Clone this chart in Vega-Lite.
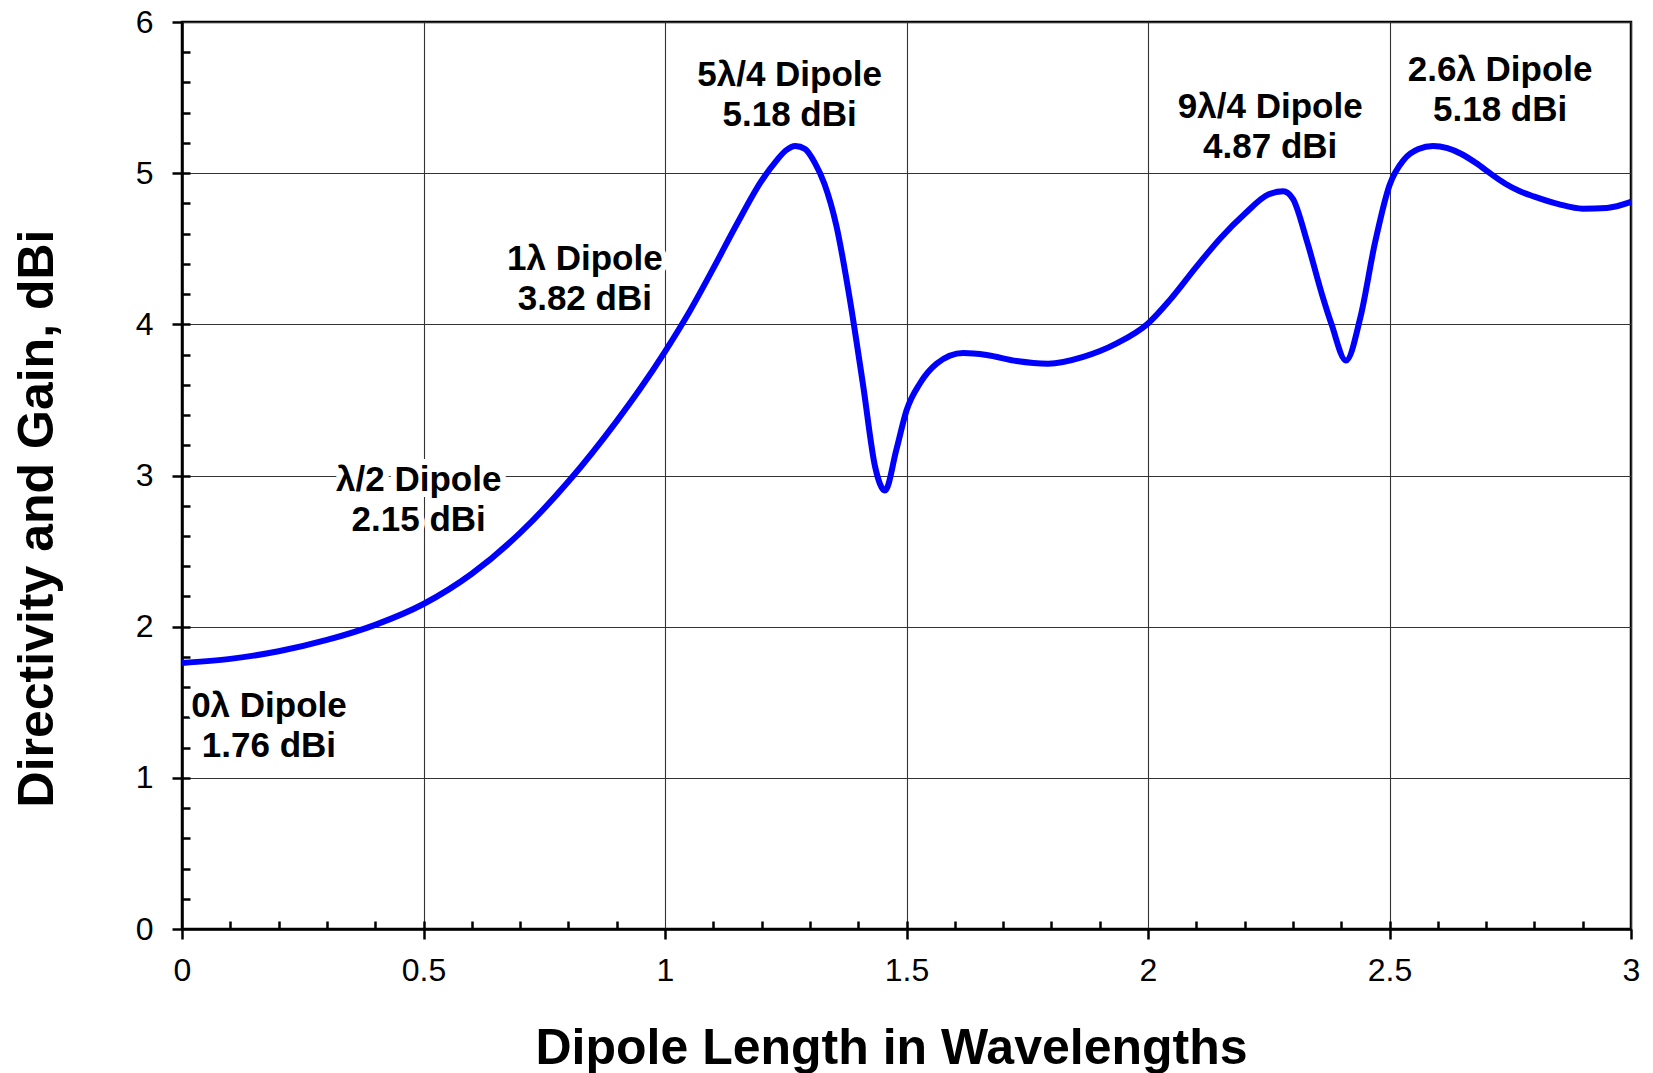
{
  "$schema": "https://vega.github.io/schema/vega-lite/v6.json",
  "autosize": {"type": "none"},
  "padding": {"left": 182, "top": 22, "right": 22, "bottom": 144},
  "width": 1449,
  "height": 907,
  "background": "white",
  "config": {
    "view": {"stroke": "black", "strokeWidth": 2.5},
    "font": "Liberation Sans"
  },
  "datasets": {
    "curve": [
      {"L": 0.0, "D": 1.76}, {"L": 0.1, "D": 1.787}, {"L": 0.2, "D": 1.837}, {"L": 0.3, "D": 1.912},
      {"L": 0.4, "D": 2.012}, {"L": 0.5, "D": 2.15}, {"L": 0.6, "D": 2.35}, {"L": 0.7, "D": 2.62},
      {"L": 0.8, "D": 2.96}, {"L": 0.9, "D": 3.36}, {"L": 0.95, "D": 3.58}, {"L": 1.0, "D": 3.82},
      {"L": 1.05, "D": 4.08}, {"L": 1.1, "D": 4.37}, {"L": 1.15, "D": 4.67}, {"L": 1.2, "D": 4.95},
      {"L": 1.23, "D": 5.08}, {"L": 1.25, "D": 5.15}, {"L": 1.27, "D": 5.18}, {"L": 1.29, "D": 5.16},
      {"L": 1.31, "D": 5.07}, {"L": 1.33, "D": 4.93},
      {"L": 1.355, "D": 4.65}, {"L": 1.383, "D": 4.16}, {"L": 1.4106, "D": 3.587},
      {"L": 1.435, "D": 3.058}, {"L": 1.4555, "D": 2.9}, {"L": 1.479, "D": 3.17}, {"L": 1.5, "D": 3.43},
      {"L": 1.528, "D": 3.61}, {"L": 1.5625, "D": 3.74}, {"L": 1.6175, "D": 3.81}, {"L": 1.666, "D": 3.797},
      {"L": 1.728, "D": 3.757}, {"L": 1.793, "D": 3.74}, {"L": 1.866, "D": 3.785}, {"L": 1.935, "D": 3.874},
      {"L": 2.0, "D": 4.006}, {"L": 2.045, "D": 4.16}, {"L": 2.1, "D": 4.38}, {"L": 2.15, "D": 4.57},
      {"L": 2.2, "D": 4.73}, {"L": 2.25, "D": 4.86}, {"L": 2.28, "D": 4.88}, {"L": 2.3, "D": 4.83},
      {"L": 2.33, "D": 4.54}, {"L": 2.36, "D": 4.2}, {"L": 2.38, "D": 4.0}, {"L": 2.41, "D": 3.76},
      {"L": 2.44, "D": 4.05}, {"L": 2.47, "D": 4.54}, {"L": 2.5, "D": 4.92}, {"L": 2.53, "D": 5.09},
      {"L": 2.56, "D": 5.16}, {"L": 2.59, "D": 5.18}, {"L": 2.62, "D": 5.165}, {"L": 2.65, "D": 5.125},
      {"L": 2.68, "D": 5.065}, {"L": 2.71, "D": 4.995}, {"L": 2.74, "D": 4.93}, {"L": 2.77, "D": 4.88},
      {"L": 2.8, "D": 4.845}, {"L": 2.85, "D": 4.795}, {"L": 2.9, "D": 4.765}, {"L": 2.95, "D": 4.77},
      {"L": 3.0, "D": 4.81}
    ],
    "labels": [
      {"L": 0.18, "D": 1.473, "label": "0λ Dipole\n1.76 dBi"},
      {"L": 0.49, "D": 2.972, "label": "λ/2 Dipole\n2.15 dBi"},
      {"L": 0.834, "D": 4.429, "label": "1λ Dipole\n3.82 dBi"},
      {"L": 1.258, "D": 5.649, "label": "5λ/4 Dipole\n5.18 dBi"},
      {"L": 2.253, "D": 5.44, "label": "9λ/4 Dipole\n4.87 dBi"},
      {"L": 2.729, "D": 5.684, "label": "2.6λ Dipole\n5.18 dBi"}
    ]
  },
  "resolve": {"axis": {"x": "independent", "y": "independent"}},
  "layer": [
    {
      "data": {"name": "curve"},
      "mark": {"type": "line", "color": "#0000FF", "strokeWidth": 6, "interpolate": "monotone"},
      "encoding": {
        "x": {
          "field": "L", "type": "quantitative",
          "scale": {"domain": [0, 3], "nice": false, "zero": false},
          "axis": {
            "orient": "bottom",
            "values": [0, 0.5, 1, 1.5, 2, 2.5, 3],
            "grid": true, "gridColor": "#333333", "gridWidth": 1.1, "gridOpacity": 1,
            "domainColor": "black", "domainWidth": 2.5,
            "tickColor": "black", "tickWidth": 2.5, "tickSize": 10,
            "labelFont": "Liberation Sans", "labelFontSize": 32, "labelColor": "black",
            "labelPadding": 16, "labelFlush": false, "labelOverlap": false,
            "format": "~g",
            "title": "Dipole Length in Wavelengths",
            "titleFont": "Liberation Sans", "titleFontSize": 50, "titleFontWeight": "bold",
            "titleColor": "black", "titleX": 709, "titleY": 134, "titleBaseline": "alphabetic"
          }
        },
        "y": {
          "field": "D", "type": "quantitative",
          "scale": {"domain": [0, 6], "nice": false, "zero": false},
          "axis": {
            "orient": "left",
            "values": [0, 1, 2, 3, 4, 5, 6],
            "grid": true, "gridColor": "#333333", "gridWidth": 1.1, "gridOpacity": 1,
            "domainColor": "black", "domainWidth": 2.5,
            "tickColor": "black", "tickWidth": 2.5, "tickSize": 10,
            "labelFont": "Liberation Sans", "labelFontSize": 32, "labelColor": "black",
            "labelPadding": 19, "labelFlush": false, "labelOverlap": false,
            "title": "Directivity and Gain, dBi",
            "titleFont": "Liberation Sans", "titleFontSize": 50, "titleFontWeight": "bold",
            "titleColor": "black", "titleX": -145, "titleY": 496, "titleAngle": -90,
            "titleBaseline": "middle", "titleAlign": "center"
          }
        }
      }
    },
    {
      "data": {"name": "labels"},
      "mark": {"type": "text", "font": "Liberation Sans", "fontSize": 35, "fontWeight": "bold",
               "lineBreak": "\n", "lineHeight": 40, "align": "center", "baseline": "middle",
               "stroke": "white", "strokeWidth": 12, "fill": "white", "strokeJoin": "round"},
      "encoding": {
        "x": {
          "field": "L", "type": "quantitative",
          "scale": {"domain": [0, 3], "nice": false, "zero": false},
          "axis": {
            "orient": "bottom",
            "values": [0.1, 0.2, 0.3, 0.4, 0.5, 0.6, 0.7, 0.8, 0.9, 1.1, 1.2, 1.3, 1.4, 1.5, 1.6, 1.7, 1.8, 1.9, 2.1, 2.2, 2.3, 2.4, 2.5, 2.6, 2.7, 2.8, 2.9],
            "grid": false, "domain": false, "labels": false, "title": null,
            "tickColor": "black", "tickWidth": 2.5, "tickSize": -8
          }
        },
        "y": {
          "field": "D", "type": "quantitative",
          "scale": {"domain": [0, 6], "nice": false, "zero": false},
          "axis": {
            "orient": "left",
            "values": [0.2, 0.4, 0.6, 0.8, 1, 1.2, 1.4, 1.6, 1.8, 2, 2.2, 2.4, 2.6, 2.8, 3, 3.2, 3.4, 3.6, 3.8, 4, 4.2, 4.4, 4.6, 4.8, 5, 5.2, 5.4, 5.6, 5.8],
            "grid": false, "domain": false, "labels": false, "title": null,
            "tickColor": "black", "tickWidth": 2.5, "tickSize": -8
          }
        },
        "text": {"field": "label", "type": "nominal"}
      }
    },
    {
      "data": {"name": "labels"},
      "mark": {"type": "text", "font": "Liberation Sans", "fontSize": 35, "fontWeight": "bold",
               "lineBreak": "\n", "lineHeight": 40, "align": "center", "baseline": "middle",
               "fill": "black"},
      "encoding": {
        "x": {"field": "L", "type": "quantitative", "scale": {"domain": [0, 3], "nice": false, "zero": false}, "axis": null},
        "y": {"field": "D", "type": "quantitative", "scale": {"domain": [0, 6], "nice": false, "zero": false}, "axis": null},
        "text": {"field": "label", "type": "nominal"}
      }
    }
  ]
}
